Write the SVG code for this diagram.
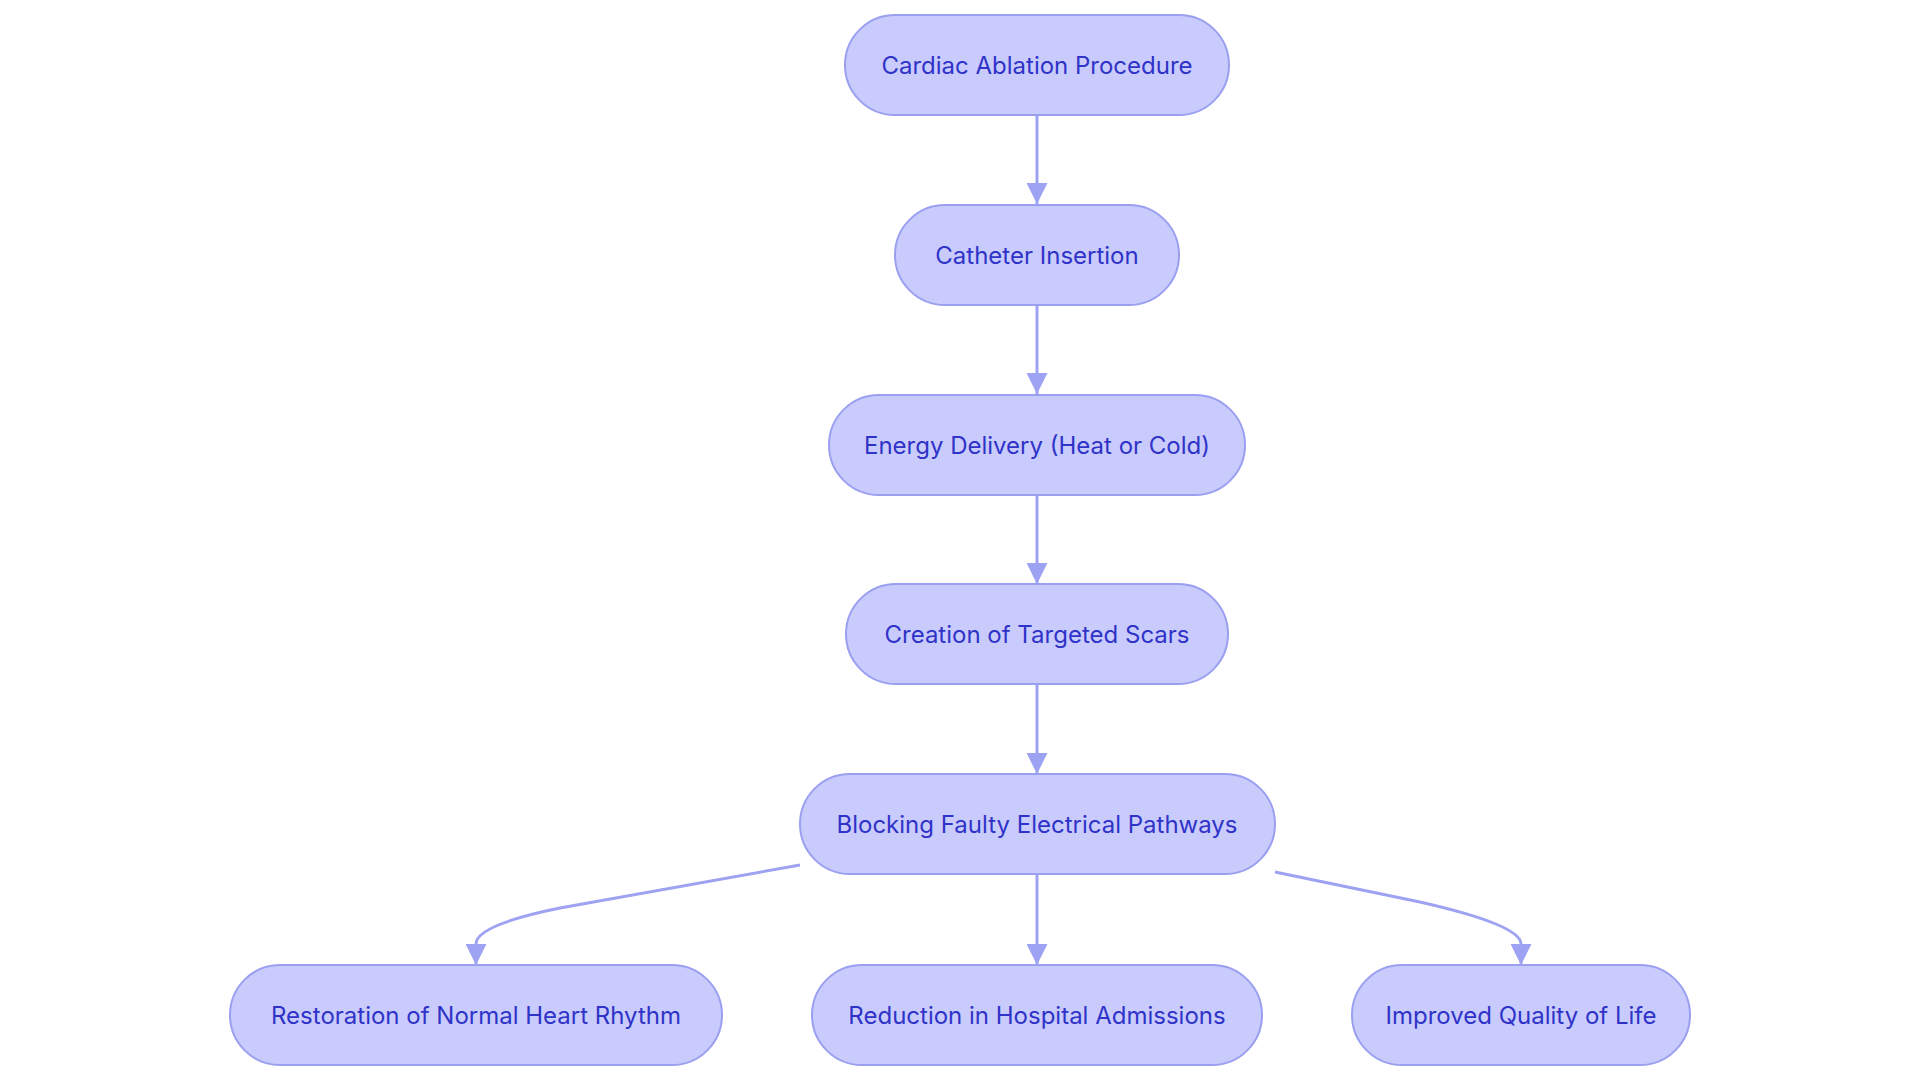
<svg xmlns="http://www.w3.org/2000/svg" width="1920" height="1083" viewBox="0 0 1920 1083">
<style>
.n rect{fill:#c9cbfd;stroke:#9a9ff0;stroke-width:2}
.n text{font-family:Inter,"Noto Sans",sans-serif;font-size:24px;fill:#2f33c8;text-anchor:middle;dominant-baseline:central}
.e path{fill:none;stroke:#9da3f2;stroke-width:3}
</style>
<defs><marker id="a" viewBox="0 0 10 10" refX="10" refY="5" markerWidth="7" markerHeight="7" orient="auto" markerUnits="strokeWidth"><path d="M0,0L10,5L0,10z" fill="#9da3f2"/></marker></defs>
<rect width="1920" height="1083" fill="#fff"/>
<g class="e">
<path d="M1037,115V204" marker-end="url(#a)"/>
<path d="M1037,305V394" marker-end="url(#a)"/>
<path d="M1037,495V584" marker-end="url(#a)"/>
<path d="M1037,684V774" marker-end="url(#a)"/>
<path d="M1037,874V965" marker-end="url(#a)"/>
<path d="M800,865L560,908Q476,925 476,944V965" marker-end="url(#a)"/>
<path d="M1275,872L1420,902Q1521,925 1521,944V965" marker-end="url(#a)"/>
</g>
<g class="n" id="n1"><rect x="845" y="15" width="384" height="100" rx="50"/><text x="1037" y="65">Cardiac Ablation Procedure</text></g>
<g class="n" id="n2"><rect x="895" y="205" width="284" height="100" rx="50"/><text x="1037" y="255">Catheter Insertion</text></g>
<g class="n" id="n3"><rect x="829" y="395" width="416" height="100" rx="50"/><text x="1037" y="445">Energy Delivery (Heat or Cold)</text></g>
<g class="n" id="n4"><rect x="846" y="584" width="382" height="100" rx="50"/><text x="1037" y="634">Creation of Targeted Scars</text></g>
<g class="n" id="n5"><rect x="800" y="774" width="475" height="100" rx="50"/><text x="1037" y="824">Blocking Faulty Electrical Pathways</text></g>
<g class="n" id="n6"><rect x="230" y="965" width="492" height="100" rx="50"/><text x="476" y="1015">Restoration of Normal Heart Rhythm</text></g>
<g class="n" id="n7"><rect x="812" y="965" width="450" height="100" rx="50"/><text x="1037" y="1015">Reduction in Hospital Admissions</text></g>
<g class="n" id="n8"><rect x="1352" y="965" width="338" height="100" rx="50"/><text x="1521" y="1015">Improved Quality of Life</text></g>
</svg>
